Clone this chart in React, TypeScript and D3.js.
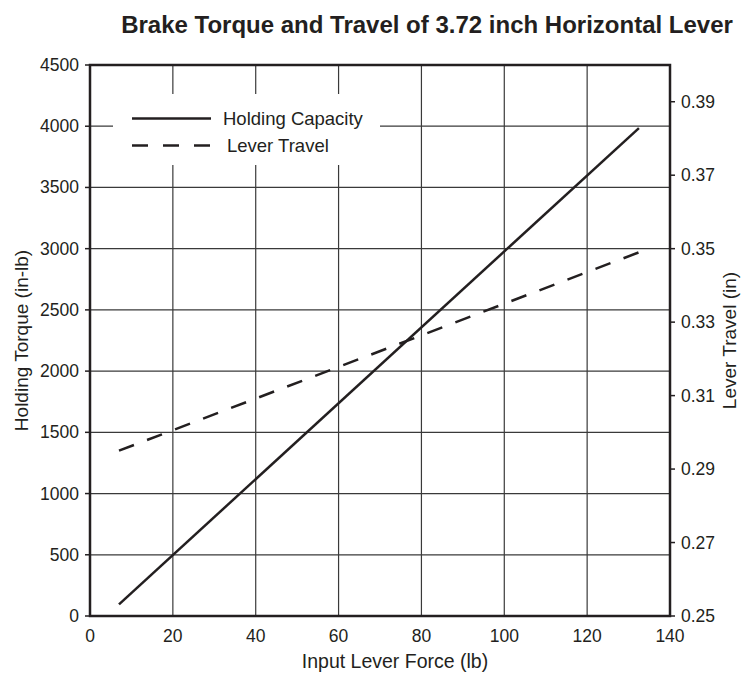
import React from "react";
import * as d3 from "d3";

const title = "Brake Torque and Travel of 3.72 inch Horizontal Lever";
const forceValues = [7, 132.5];
const holdingValues = [95, 3985];
const travelValues = [0.295, 0.349];
const xTicks = [0, 20, 40, 60, 80, 100, 120, 140];
const yLeftTicks = [0, 500, 1000, 1500, 2000, 2500, 3000, 3500, 4000, 4500];
const yRightTicks = [0.25, 0.27, 0.29, 0.31, 0.33, 0.35, 0.37, 0.39];
const seriesNames = ["Holding Capacity", "Lever Travel"];

const W = 742, H = 676;
const L = 90, R = 670, T = 65, B = 616;
const FONT = "'Liberation Sans', Arial, Helvetica, sans-serif";
const INK = "#231f20";

export default function App() {
  const x = d3.scaleLinear().domain([0, 140]).range([L, R]);
  const yL = d3.scaleLinear().domain([0, 4500]).range([B, T]);
  const yR = d3.scaleLinear().domain([0.25, 0.4]).range([B, T]);

  const holdPts = forceValues.map((f, i) => [f, holdingValues[i]] as [number, number]);
  const travPts = forceValues.map((f, i) => [f, travelValues[i]] as [number, number]);
  const holdLine = d3.line<[number, number]>().x(d => x(d[0])).y(d => yL(d[1]));
  const travLine = d3.line<[number, number]>().x(d => x(d[0])).y(d => yR(d[1]));

  return (
    <svg width={W} height={H} style={{ position: "absolute", left: 0, top: 0 }} fontFamily={FONT}>
      <rect width={W} height={H} fill="#fff" />
      <text x={427} y={33} textAnchor="middle" fontSize={24} fontWeight="bold" fill={INK}>{title}</text>

      {/* grid */}
      {xTicks.filter(t => t > 0 && t < 140).map(t => (
        <line key={"gx" + t} x1={x(t)} x2={x(t)} y1={T} y2={B} stroke="#3a3a3a" strokeWidth={1.2} />
      ))}
      {yLeftTicks.filter(t => t > 0 && t < 4500).map(t => (
        <line key={"gy" + t} x1={L} x2={R} y1={yL(t)} y2={yL(t)} stroke="#3a3a3a" strokeWidth={1.2} />
      ))}

      {/* legend box */}
      <rect x={113} y={94} width={267} height={71} fill="#fff" />
      <line x1={132} x2={211} y1={118.5} y2={118.5} stroke={INK} strokeWidth={2.5} />
      <text x={223} y={125} fontSize={18.5} fill={INK}>{seriesNames[0]}</text>
      <line x1={132} x2={211} y1={145.5} y2={145.5} stroke={INK} strokeWidth={2.5} strokeDasharray="16,15" />
      <text x={227} y={152} fontSize={18.5} fill={INK}>{seriesNames[1]}</text>

      {/* data */}
      <path d={holdLine(holdPts) || ""} fill="none" stroke={INK} strokeWidth={2.5} />
      <path d={travLine(travPts) || ""} fill="none" stroke={INK} strokeWidth={2.5} strokeDasharray="16,14" />

      {/* frame */}
      <rect x={L} y={T} width={R - L} height={B - T} fill="none" stroke={INK} strokeWidth={2.5} />

      {/* left ticks */}
      {yLeftTicks.map(t => (
        <g key={"yl" + t}>
          <line x1={L - 5} x2={L} y1={yL(t)} y2={yL(t)} stroke={INK} strokeWidth={1.5} />
          <text x={79} y={yL(t) + 6} textAnchor="end" fontSize={17.5} fill={INK}>{t}</text>
        </g>
      ))}
      {/* right ticks */}
      {yRightTicks.map(t => (
        <g key={"yr" + t}>
          <line x1={R} x2={R + 5} y1={yR(t)} y2={yR(t)} stroke={INK} strokeWidth={1.5} />
          <text x={681} y={yR(t) + 6} fontSize={17.5} fill={INK}>{t.toFixed(2)}</text>
        </g>
      ))}
      {/* bottom ticks */}
      {xTicks.map(t => (
        <text key={"xt" + t} x={x(t)} y={642} textAnchor="middle" fontSize={17.5} fill={INK}>{t}</text>
      ))}

      <text x={395} y={668} textAnchor="middle" fontSize={19.5} fill={INK}>Input Lever Force (lb)</text>
      <text transform={`translate(28,${(T + B) / 2}) rotate(-90)`} textAnchor="middle" fontSize={19} fill={INK}>Holding Torque (in-lb)</text>
      <text transform={`translate(736,${(T + B) / 2}) rotate(-90)`} textAnchor="middle" fontSize={19} fill={INK}>Lever Travel (in)</text>
    </svg>
  );
}
